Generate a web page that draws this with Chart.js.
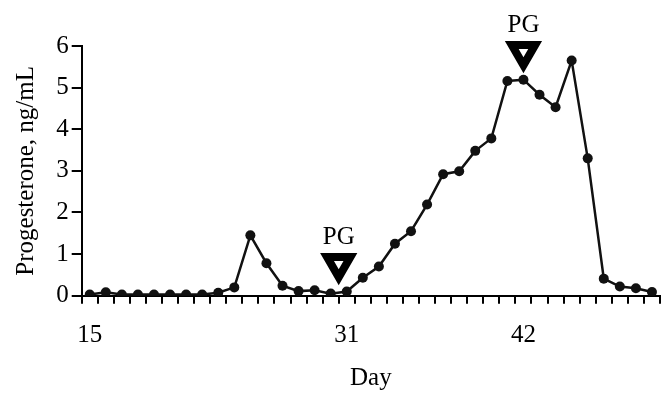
<!DOCTYPE html>
<html>
<head>
    <title>Progesterone by Day</title>
    <script src="https://cdn.jsdelivr.net/npm/chart.js"></script>
    <style>
        body { margin: 0; background: #fff; }
    </style>
</head>
<body>
    <canvas id="progChart" width="668" height="394"></canvas>
    <script>
        // days 15..50
        var days = [15, 16, 17, 18, 19, 20, 21, 22, 23, 24, 25, 26, 27, 28, 29, 30, 31, 32,
                    33, 34, 35, 36, 37, 38, 39, 40, 41, 42, 43, 44, 45, 46, 47, 48, 49, 50];
        var progesterone = [0.03, 0.08, 0.03, 0.03, 0.03, 0.03, 0.03, 0.03, 0.07, 0.2, 1.45, 0.78,
                            0.24, 0.11, 0.13, 0.05, 0.1, 0.43, 0.7, 1.25, 1.55, 2.19, 2.92, 2.99,
                            3.48, 3.78, 5.16, 5.19, 4.83, 4.53, 5.65, 3.3, 0.41, 0.22, 0.18, 0.09];
        var labelDays = [15, 31, 42]; // only these days get a label
        var yTicks = [0, 1, 2, 3, 4, 5, 6];

        // PG injections: day and the height the marker sits at
        var pgDays = [30.5, 42];
        var pgMarkY = [0.77, 5.86];
        var pgText = 'PG';

        var serif = "'Liberation Serif', 'Times New Roman', serif";
        Chart.defaults.font.family = serif;
        Chart.defaults.font.size = 25;
        Chart.defaults.color = '#000';

        // writes "PG" over each marker
        var pgLabels = {
            id: 'pgLabels',
            afterDatasetsDraw: function (chart) {
                var meta = chart.getDatasetMeta(1);
                var ctx = chart.ctx;
                ctx.save();
                ctx.font = '25px ' + serif;
                ctx.fillStyle = '#000';
                ctx.textAlign = 'center';
                ctx.textBaseline = 'alphabetic';
                meta.data.forEach(function (pt) {
                    ctx.fillText(pgText, pt.x, pt.y - 20);
                });
                ctx.restore();
            }
        };

        var ctx = document.getElementById('progChart').getContext('2d');
        var progChart = new Chart(ctx, {
            type: 'line',
            data: {
                labels: days.map(String),
                datasets: [{
                    label: 'Progesterone',
                    data: progesterone,
                    borderColor: '#111',
                    backgroundColor: '#111',
                    borderWidth: 2.5,
                    pointRadius: 5,
                    pointBorderWidth: 0,
                    tension: 0
                }, {
                    label: 'PG',
                    xAxisID: 'xPG',
                    data: pgDays.map(function (d, i) { return { x: d, y: pgMarkY[i] }; }),
                    showLine: false,
                    pointStyle: 'triangle',
                    rotation: 180,
                    pointRadius: 13.5,
                    pointBorderWidth: 8,
                    borderColor: '#000',
                    backgroundColor: '#fff',
                    clip: false
                }]
            },
            options: {
                responsive: false,
                animation: false,
                devicePixelRatio: 1,
                layout: { autoPadding: false, padding: { top: 46, right: 8, left: 0, bottom: 0 } },
                plugins: {
                    legend: { display: false },
                    tooltip: { enabled: false }
                },
                scales: {
                    x: {
                        type: 'category',
                        offset: true,
                        grid: {
                            offset: true,
                            drawOnChartArea: false,
                            tickLength: 8,
                            color: '#000',
                            lineWidth: 2
                        },
                        border: { color: '#000', width: 2 },
                        ticks: {
                            autoSkip: false,
                            maxRotation: 0,
                            padding: 3,
                            font: { size: 25, lineHeight: 2.3 },
                            callback: function (val, i) {
                                return labelDays.indexOf(days[i]) >= 0 ? String(days[i]) : '';
                            }
                        },
                        title: { display: true, text: 'Day', padding: { top: -4.2, bottom: 1 } }
                    },
                    xPG: {
                        type: 'linear',
                        display: false,
                        min: days[0] - 0.5,
                        max: days[days.length - 1] + 0.5,
                        ticks: { display: false }
                    },
                    y: {
                        min: 0,
                        max: 6,
                        afterBuildTicks: function (axis) {
                            axis.ticks = yTicks.map(function (v) { return { value: v }; });
                        },
                        grid: {
                            drawOnChartArea: false,
                            tickLength: 10,
                            color: '#000',
                            lineWidth: 2
                        },
                        border: { color: '#000', width: 2 },
                        ticks: { padding: 3 },
                        title: {
                            display: true,
                            text: 'Progesterone, ng/mL',
                            padding: { top: 11, bottom: 12.2 }
                        }
                    }
                }
            },
            plugins: [pgLabels]
        });
    </script>
</body>
</html>
